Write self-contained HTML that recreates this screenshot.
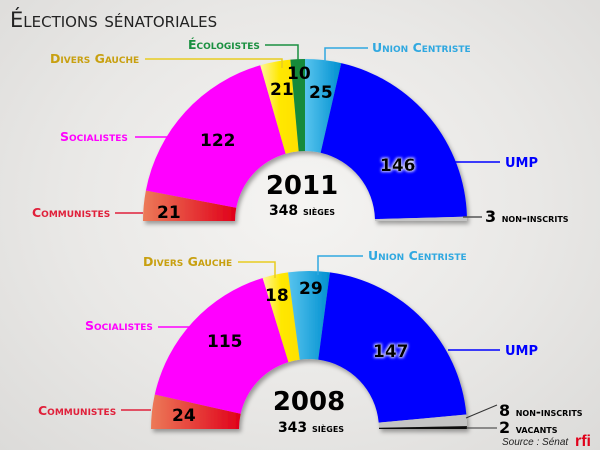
<!DOCTYPE html>
<html><head><meta charset="utf-8"><style>
html,body{margin:0;padding:0;width:600px;height:450px;overflow:hidden}
body{background:radial-gradient(ellipse at 50% 45%,#f5f4f2 0%,#e9e8e6 55%,#dcdbd9 100%);font-family:"Liberation Sans","DejaVu Sans",sans-serif}
svg{position:absolute;left:0;top:0}
text{font-family:"DejaVu Sans","Liberation Sans",sans-serif;font-weight:bold}
.lb{font-size:12.5px;font-variant:small-caps}
.num{font-size:17px;fill:#000}
</style></head><body>
<svg id="s" width="600" height="450" viewBox="0 0 600 450">
<defs>
<linearGradient id="gc" x1="0" x2="1"><stop offset="0" stop-color="#ec7a58"/><stop offset="1" stop-color="#e0001a"/></linearGradient>
<linearGradient id="gy" x1="0" x2="1"><stop offset="0" stop-color="#fff59a"/><stop offset="0.5" stop-color="#ffe800"/><stop offset="1" stop-color="#ffe000"/></linearGradient>
<linearGradient id="gu" x1="0" x2="1"><stop offset="0" stop-color="#58c4ee"/><stop offset="1" stop-color="#0090d0"/></linearGradient>
<filter id="sh" x="-10%" y="-10%" width="120%" height="130%"><feDropShadow dx="2" dy="3" stdDeviation="2" flood-color="#000" flood-opacity="0.35"/></filter>
<filter id="gl" x="-20%" y="-30%" width="140%" height="160%"><feMorphology operator="dilate" radius="1" in="SourceAlpha" result="d"/><feGaussianBlur in="d" stdDeviation="1.2" result="b"/><feFlood flood-color="#fff" flood-opacity="0.8"/><feComposite in2="b" operator="in"/><feMerge><feMergeNode/><feMergeNode in="SourceGraphic"/></feMerge></filter>
</defs>
<text x="10" y="27" style="font-family:'DejaVu Sans',sans-serif;font-weight:normal;font-size:21px;font-variant:small-caps" fill="#222">Élections sénatoriales</text>
<g id="c1" filter="url(#sh)"></g>
<g id="c2" filter="url(#sh)"></g>
<g fill="none" stroke-width="1.5">
<polyline points="265,45 298,45 298,60" stroke="#1a9040"/>
<polyline points="145,59 282,59 282,68" stroke="#e8cc20"/>
<polyline points="368,48 325,48 325,62" stroke="#30a8e0"/>
<line x1="135" y1="137" x2="168" y2="137" stroke="#ff00ff"/>
<line x1="455" y1="162" x2="500" y2="162" stroke="#0000ff"/>
<line x1="115" y1="213" x2="143" y2="213" stroke="#e0203a"/>
<line x1="463" y1="217" x2="482" y2="217" stroke="#555"/>
<polyline points="238,262 275,262 275,278" stroke="#e8cc20"/>
<polyline points="363,256 318,256 318,275" stroke="#30a8e0"/>
<line x1="158" y1="327" x2="190" y2="327" stroke="#ff00ff"/>
<line x1="448" y1="350" x2="500" y2="350" stroke="#0000ff"/>
<line x1="121" y1="410" x2="151" y2="410" stroke="#e0203a"/>
<line x1="466" y1="418" x2="497" y2="405" stroke="#333" stroke-width="1"/>
<line x1="466" y1="428" x2="497" y2="428" stroke="#333" stroke-width="1"/>
</g>
<text class="lb" x="188" y="49" fill="#1a9040">Écologistes</text>
<text class="lb" x="50" y="63" fill="#c8a010">Divers Gauche</text>
<text class="lb" x="372" y="52" fill="#30a8e0">Union Centriste</text>
<text class="lb" x="60" y="141" fill="#ff00ff">Socialistes</text>
<text class="lb" x="505" y="167" fill="#0000ff" style="font-size:13px">UMP</text>
<text class="lb" x="32" y="217" fill="#e0203a">Communistes</text>
<text x="485" y="222" style="font-size:16px">3 <tspan style="font-size:12px;font-variant:small-caps">non-inscrits</tspan></text>
<text class="num" x="157" y="218">21</text>
<text class="num" x="200" y="146">122</text>
<text class="num" x="270" y="95">21</text>
<text class="num" x="287" y="79">10</text>
<text class="num" x="309" y="98">25</text>
<text class="num" x="380" y="171" filter="url(#gl)">146</text>
<text x="302" y="194" text-anchor="middle" style="font-size:26px">2011</text>
<text x="302" y="215" text-anchor="middle" style="font-size:14px">348 <tspan style="font-size:12px;font-variant:small-caps">sièges</tspan></text>

<text class="lb" x="143" y="266" fill="#c8a010">Divers Gauche</text>
<text class="lb" x="368" y="260" fill="#30a8e0">Union Centriste</text>
<text class="lb" x="85" y="330" fill="#ff00ff">Socialistes</text>
<text class="lb" x="505" y="355" fill="#0000ff" style="font-size:13px">UMP</text>
<text class="lb" x="38" y="415" fill="#e0203a">Communistes</text>
<text class="num" x="172" y="421">24</text>
<text class="num" x="207" y="347">115</text>
<text class="num" x="265" y="301">18</text>
<text class="num" x="299" y="294">29</text>
<text class="num" x="373" y="357" filter="url(#gl)">147</text>
<text x="309" y="410" text-anchor="middle" style="font-size:26px">2008</text>
<text x="311" y="432" text-anchor="middle" style="font-size:14px">343 <tspan style="font-size:12px;font-variant:small-caps">sièges</tspan></text>
<text x="499" y="416" style="font-size:16px">8 <tspan style="font-size:12px;font-variant:small-caps">non-inscrits</tspan></text>
<text x="499" y="433" style="font-size:16px">2 <tspan style="font-size:12px;font-variant:small-caps">vacants</tspan></text>
<text x="502" y="445" style="font-size:10px;font-style:italic;font-weight:normal;font-family:'Liberation Sans',sans-serif" fill="#222">Source : Sénat</text>
<text x="575" y="446" style="font-size:16px;font-family:'Liberation Sans',sans-serif" fill="#e0001a">rfi</text>
</svg>
<script>
function wedges(g,cx,cy,R,r,parts){
  var tot=parts.reduce(function(a,p){return a+p[0]},0),acc=0,h='';
  parts.forEach(function(p){
    var a1=acc/tot*Math.PI;acc+=p[0];var a2=acc/tot*Math.PI;
    function P(rr,a){return (cx-rr*Math.cos(a)).toFixed(2)+','+(cy-rr*Math.sin(a)).toFixed(2)}
    h+='<path d="M'+P(R,a1)+' A'+R+','+R+' 0 0 1 '+P(R,a2)+' L'+P(r,a2)+' A'+r+','+r+' 0 0 0 '+P(r,a1)+' Z" fill="'+p[1]+'"/>';
  });
  document.getElementById(g).innerHTML=h;
}
wedges('c1',305,221,162,70,[[21,'url(#gc)'],[122,'#ff00ff'],[21,'url(#gy)'],[10,'#178a3a'],[25,'url(#gu)'],[146,'#0000ff'],[3,'#c4c4c4']]);
wedges('c2',309,429,158,70,[[24,'url(#gc)'],[115,'#ff00ff'],[18,'url(#gy)'],[29,'url(#gu)'],[147,'#0000ff'],[8,'#c4c4c4'],[2,'#111']]);
</script>
</body></html>
